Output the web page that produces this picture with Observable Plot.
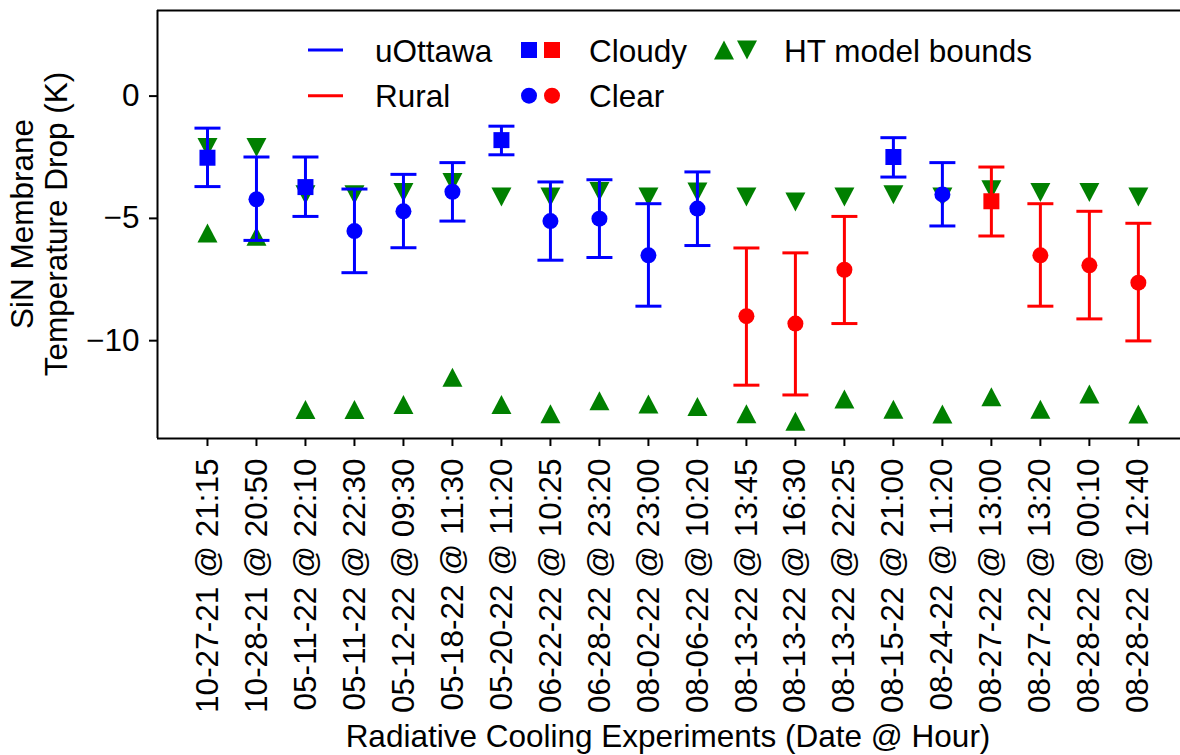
<!DOCTYPE html>
<html>
<head>
<meta charset="utf-8">
<script src="https://cdn.jsdelivr.net/npm/d3@7"></script>
<script src="https://cdn.jsdelivr.net/npm/@observablehq/plot@0.6"></script>
<style>
  html, body { margin: 0; padding: 0; background: white; }
  #chart { position: relative; width: 1180px; height: 755px; overflow: hidden; }
  #chart svg { display: block; }
</style>
</head>
<body>
<div id="chart"></div>
<script>
// ---------- data ----------
const experiments = ["10-27-21 @ 21:15", "10-28-21 @ 20:50", "05-11-22 @ 22:10", "05-11-22 @ 22:30", "05-12-22 @ 09:30", "05-18-22 @ 11:30", "05-20-22 @ 11:20", "06-22-22 @ 10:25", "06-28-22 @ 23:20", "08-02-22 @ 23:00", "08-06-22 @ 10:20", "08-13-22 @ 13:45", "08-13-22 @ 16:30", "08-13-22 @ 22:25", "08-15-22 @ 21:00", "08-24-22 @ 11:20", "08-27-22 @ 13:00", "08-27-22 @ 13:20", "08-28-22 @ 00:10", "08-28-22 @ 12:40"];
const sites = ["uOttawa", "uOttawa", "uOttawa", "uOttawa", "uOttawa", "uOttawa", "uOttawa", "uOttawa", "uOttawa", "uOttawa", "uOttawa", "Rural", "Rural", "Rural", "uOttawa", "uOttawa", "Rural", "Rural", "Rural", "Rural"];
const skies = ["Cloudy", "Clear", "Cloudy", "Clear", "Clear", "Clear", "Cloudy", "Clear", "Clear", "Clear", "Clear", "Clear", "Clear", "Clear", "Cloudy", "Clear", "Cloudy", "Clear", "Clear", "Clear"];
const tempDrop = [-2.52, -4.22, -3.72, -5.52, -4.71, -3.91, -1.80, -5.11, -5.01, -6.51, -4.60, -9.00, -9.30, -7.10, -2.49, -4.02, -4.30, -6.51, -6.92, -7.63];
const errTop = [-1.31, -2.49, -2.49, -3.80, -3.20, -2.72, -1.23, -3.51, -3.42, -4.40, -3.10, -6.21, -6.41, -4.92, -1.70, -2.72, -2.90, -4.40, -4.71, -5.20];
const errBottom = [-3.70, -5.90, -4.92, -7.22, -6.20, -5.11, -2.40, -6.71, -6.60, -8.59, -6.11, -11.82, -12.22, -9.30, -3.31, -5.31, -5.72, -8.59, -9.11, -10.01];
const modelUpper = [-2.10, -2.10, -4.03, -4.03, -3.94, -3.53, -4.13, -4.13, -3.90, -4.13, -3.92, -4.13, -4.33, -4.13, -4.03, -4.13, -3.83, -3.94, -3.94, -4.13];
const modelLower = [-5.60, -5.73, -12.81, -12.81, -12.61, -11.50, -12.61, -12.99, -12.46, -12.59, -12.69, -12.99, -13.29, -12.39, -12.80, -13.00, -12.29, -12.80, -12.18, -13.00];
const yTicks = [0, -5, -10];
const siteColors = {uOttawa: "#0000ff", Rural: "#ff0000"};
const modelColor = "#008000";
const xDomain = [-1.02, 19.86];
const yDomain = [-14, 3.5];

const rows = experiments.map((label, i) => ({
  i, label, site: sites[i], sky: skies[i],
  value: tempDrop[i], hi: errTop[i], lo: errBottom[i],
  upper: modelUpper[i], lower: modelLower[i], color: siteColors[sites[i]]
}));

// ---------- custom symbols ----------
const rad = size => Math.sqrt(size / Math.PI);
const triUp = {draw(ctx, size) { const r = rad(size), h = r * 0.95; ctx.moveTo(0, -h); ctx.lineTo(r, h); ctx.lineTo(-r, h); ctx.closePath(); }};
const triDown = {draw(ctx, size) { const r = rad(size), h = r * 0.95; ctx.moveTo(0, h); ctx.lineTo(r, -h); ctx.lineTo(-r, -h); ctx.closePath(); }};
const squareSym = {draw(ctx, size) { const r = rad(size); ctx.rect(-r, -r, 2 * r, 2 * r); }};
const capSym = {draw(ctx, size) { const r = rad(size); ctx.moveTo(-r, 0); ctx.lineTo(r, 0); }};

const FONT = "'Liberation Sans', Arial, Helvetica, sans-serif";
const FS = 31.5;
const minus = d => d < 0 ? "\u2212" + Math.abs(d) : String(d);

const chart = Plot.plot({
  width: 1180, height: 755,
  marginLeft: 157, marginRight: 0, marginTop: 10, marginBottom: 317,
  style: {fontFamily: FONT, fontSize: FS + "px", color: "black", background: "white", overflow: "visible"},
  x: {domain: xDomain},
  y: {domain: yDomain},
  color: {type: "identity"},
  marks: [
    Plot.axisY({ticks: yTicks, tickSize: 8, tickPadding: 10, strokeWidth: 2, tickFormat: minus, label: null, fontSize: FS}),
    Plot.axisX({ticks: rows.map(d => d.i), tickSize: 8, tickPadding: 12, strokeWidth: 2, tickRotate: -90, tickFormat: i => experiments[i], label: null, fontSize: FS}),
    Plot.ruleY(yDomain, {stroke: "black", strokeWidth: 2}),
    Plot.ruleX([xDomain[0]], {stroke: "black", strokeWidth: 2}),
    // HT model bounds
    Plot.dot(rows, {x: "i", y: "lower", symbol: triUp, r: 10, fill: modelColor, stroke: "none"}),
    Plot.dot(rows, {x: "i", y: "upper", symbol: triDown, r: 10, fill: modelColor, stroke: "none"}),
    // error bars
    Plot.ruleX(rows, {x: "i", y1: "lo", y2: "hi", stroke: "color", strokeWidth: 3}),
    Plot.dot(rows, {x: "i", y: "hi", symbol: capSym, r: 13, stroke: "color", strokeWidth: 3, fill: "none"}),
    Plot.dot(rows, {x: "i", y: "lo", symbol: capSym, r: 13, stroke: "color", strokeWidth: 3, fill: "none"}),
    // measured points
    Plot.dot(rows.filter(d => d.sky === "Clear"), {x: "i", y: "value", r: 8, fill: "color", stroke: "none"}),
    Plot.dot(rows.filter(d => d.sky === "Cloudy"), {x: "i", y: "value", symbol: squareSym, r: 8, fill: "color", stroke: "none"})
  ]
});

const svg = d3.select(chart);
// axis titles
svg.append("text").attr("x", 668).attr("y", 747).attr("text-anchor", "middle")
  .attr("font-family", FONT).attr("font-size", FS).attr("fill", "black")
  .text("Radiative Cooling Experiments (Date @ Hour)");
const yTitle = svg.append("text").attr("transform", "translate(0,224) rotate(-90)")
  .attr("text-anchor", "middle").attr("font-family", FONT).attr("font-size", FS).attr("fill", "black");
yTitle.append("tspan").attr("x", 0).attr("y", 33).text("SiN Membrane");
yTitle.append("tspan").attr("x", 0).attr("y", 67).text("Temperature Drop (K)");

// legend
const legend = svg.append("g").attr("font-family", FONT).attr("font-size", FS).attr("fill", "black")
  .attr("text-anchor", "start");
const rowY = [50, 95.7];
const legendEntries = [
  {x: 375, row: 0, label: "uOttawa", kind: "line", colors: [siteColors.uOttawa]},
  {x: 375, row: 1, label: "Rural", kind: "line", colors: [siteColors.Rural]},
  {x: 589, row: 0, label: "Cloudy", kind: "square", colors: [siteColors.uOttawa, siteColors.Rural]},
  {x: 589, row: 1, label: "Clear", kind: "circle", colors: [siteColors.uOttawa, siteColors.Rural]},
  {x: 784, row: 0, label: "HT model bounds", kind: "tri", colors: [modelColor, modelColor]}
];
for (const e of legendEntries) {
  const cy = rowY[e.row];
  legend.append("text").attr("x", e.x).attr("y", cy + 11.5).attr("text-anchor", "start").text(e.label);
  if (e.kind === "line") {
    legend.append("line").attr("x1", e.x - 67).attr("x2", e.x - 32).attr("y1", cy).attr("y2", cy)
      .attr("stroke", e.colors[0]).attr("stroke-width", 3);
  } else {
    const centers = [e.x - 60, e.x - 37];
    e.colors.forEach((c, k) => {
      const sx = centers[k];
      let sym;
      if (e.kind === "square") sym = squareSym;
      else if (e.kind === "circle") sym = d3.symbolCircle;
      else sym = k === 0 ? triUp : triDown;
      const r = e.kind === "tri" ? 10 : 8;
      legend.append("path").attr("transform", `translate(${sx},${cy})`)
        .attr("d", d3.symbol(sym, r * r * Math.PI)()).attr("fill", c);
    });
  }
}

document.getElementById("chart").appendChild(chart);
</script>
</body>
</html>
